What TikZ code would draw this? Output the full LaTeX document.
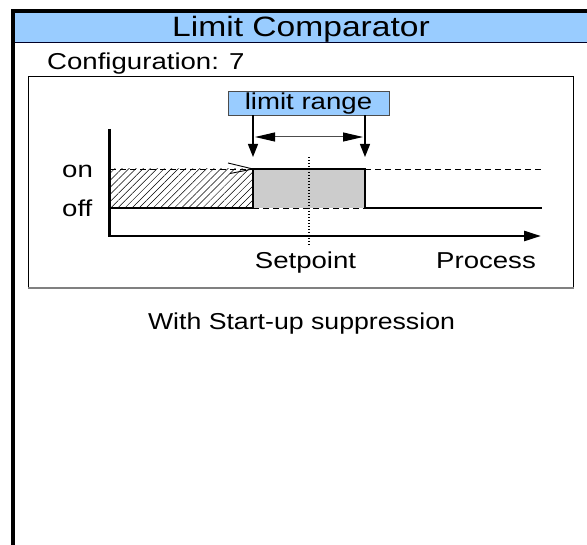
\documentclass[tikz,border=0pt]{standalone}
\usepackage{fontspec}
\setmainfont{Liberation Sans}
\usetikzlibrary{arrows.meta,patterns.meta}
\definecolor{hdrblue}{HTML}{99CCFF}
\definecolor{rangegray}{HTML}{CCCCCC}
\newcommand\stretchtxt[1]{\scalebox{1.2}[1]{#1}}
\tikzset{
  lbl/.style={font=\fontsize{23}{23}\selectfont, inner sep=0pt},
  sig/.style={line width=2pt},
  dsh/.style={line width=0.9pt, dash pattern=on 6pt off 4pt},
  downarrow/.style={line width=1.3pt, -{Triangle[length=13pt,width=10pt]}},
}
\begin{document}
\begin{tikzpicture}[x=1pt,y=-1pt]
\useasboundingbox (0,0) rectangle (587,545);
% header
\fill[hdrblue] (13,12) rectangle (587,43);
\draw[line width=1pt, black!85!blue] (13,43) -- (587,43);
\draw[line width=4pt] (13,545) -- (13,10.7) -- (587,10.7);
\node[font=\fontsize{28}{28}\selectfont, inner sep=0pt] (title) at (301,29.5) {\stretchtxt{Limit Comparator}};
\node[lbl, anchor=base west] (cfg) at (47,70) {\stretchtxt{Configuration: 7}};
% inner box
\draw[line width=0.9pt] (28.5,287) -- (28.5,76) -- (573,76) -- (573,287);
\draw[gray, line width=2pt] (28,288) -- (574,288);
% hatched start-up region
\fill[pattern={Lines[angle=45,distance=5pt,line width=0.5pt]}] (110,169) rectangle (253,208);
\fill[rangegray] (253,169) rectangle (365,208);
\draw[dsh] (110,169) -- (253,169);
\draw[sig] (110,208) -- (253,208);
\draw[sig] (253,208) -- (253,169) -- (365,169) -- (365,208) -- (542,208);
\draw[dsh] (253,208) -- (365,208);
\draw[dsh] (365,169) -- (542,169);
% open arrow on dashed line
\draw[line width=0.9pt] (228,163) -- (253,169) -- (230,173.5);
% dotted setpoint line
\draw[line width=1.3pt, dash pattern=on 1.5pt off 1.5pt] (309,157) -- (309,247);
% axes
\draw[line width=2.6pt, line join=miter, -{Triangle[length=17pt,width=10pt]}] (109.5,129) -- (109.5,236) -- (541,236);
% limit range box
\node[draw=black!70, line width=0.8pt, fill=hdrblue, minimum width=161pt, minimum height=24pt, inner sep=0pt] (lr) at (308.5,103) {};
\node[lbl] (lrt) at (308.5,104) {\stretchtxt{limit range}};
\coordinate (lon) at (253,157);
\coordinate (ron) at (365,157);
\draw[downarrow] (lr.south -| lon) -- (lon);
\draw[downarrow] (lr.south -| ron) -- (ron);
\coordinate (ra) at (255,137);
\coordinate (rb) at (363,137);
\draw[gray!60!black, line width=1pt, {Triangle[length=20pt,width=9pt,color=black]}-{Triangle[length=20pt,width=9pt,color=black]}] (ra) -- (rb);
% labels
\node[lbl, anchor=base west] (on) at (62,178) {\stretchtxt{on}};
\node[lbl, anchor=base west] (off) at (62,217) {\stretchtxt{off}};
\node[lbl, anchor=base] (sp) at (305.5,269) {\stretchtxt{Setpoint}};
\node[lbl, anchor=base] (pr) at (486,269) {\stretchtxt{Process}};
\node[lbl, anchor=base] (ws) at (301.5,330) {\scalebox{1.16}[1]{With Start-up suppression}};
\end{tikzpicture}
\end{document}
